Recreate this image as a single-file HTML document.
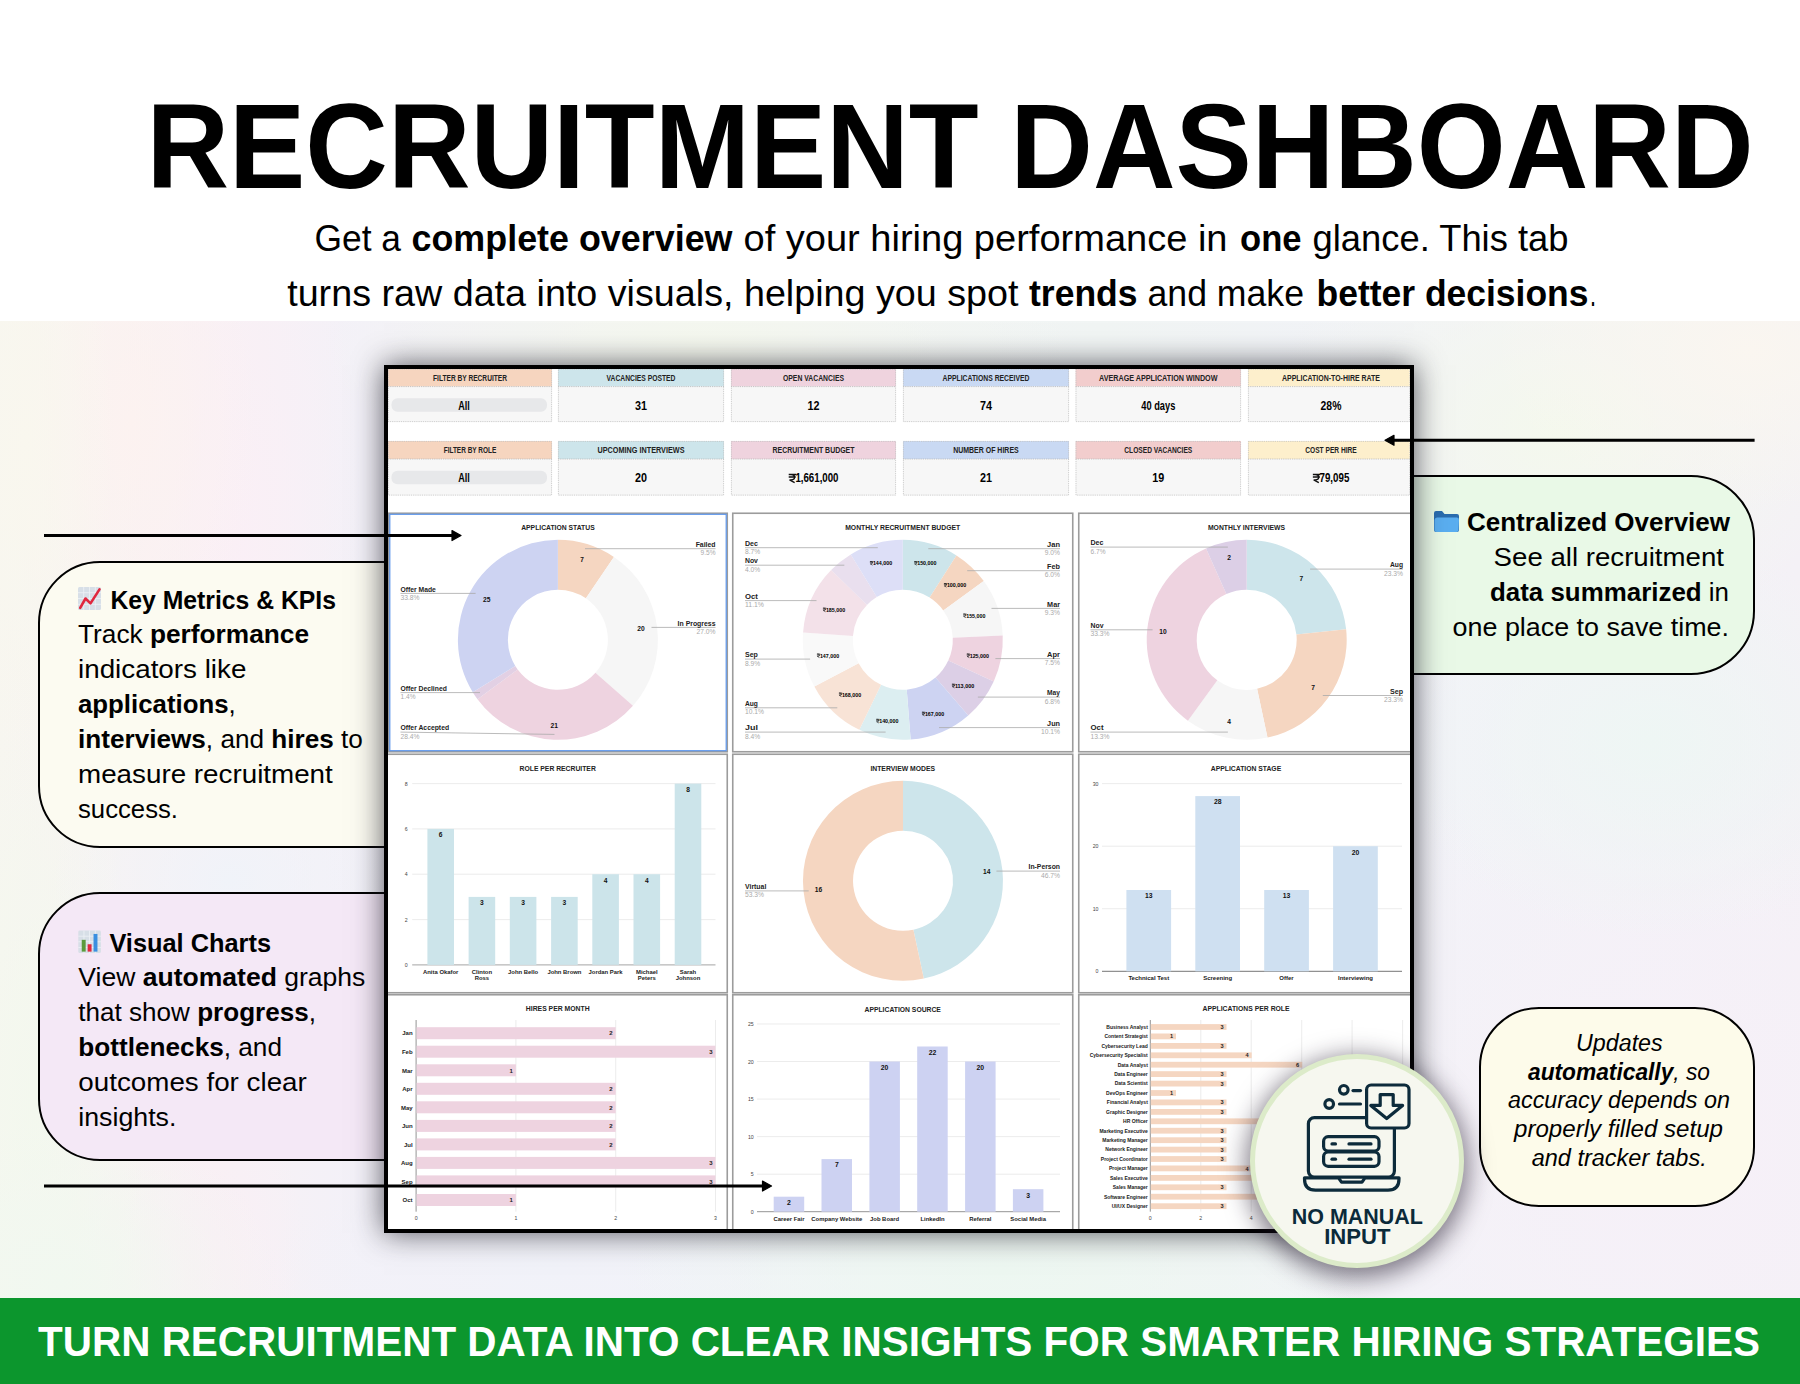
<!DOCTYPE html>
<html><head><meta charset="utf-8"><title>Recruitment Dashboard</title>
<style>
html,body{margin:0;padding:0;}
body{width:1800px;height:1384px;overflow:hidden;position:relative;background:#fff;font-family:"Liberation Sans", sans-serif;}
.abs{position:absolute;}
svg text{font-family:"Liberation Sans", sans-serif;}
.bg{position:absolute;left:0;top:321px;width:1800px;height:977px;background:radial-gradient(ellipse 260px 160px at 1750px 30px, rgba(250,246,240,1), rgba(250,246,240,0) 100%),
  radial-gradient(ellipse 300px 220px at 1560px 110px, rgba(244,248,237,1), rgba(244,248,237,0) 100%),
  radial-gradient(ellipse 380px 140px at 700px 30px, rgba(245,248,238,1), rgba(245,248,238,0) 100%),
  radial-gradient(ellipse 260px 200px at 1650px 420px, rgba(238,246,244,1), rgba(238,246,244,0) 100%),
  radial-gradient(ellipse 380px 140px at 1000px 950px, rgba(237,247,241,1), rgba(237,247,241,0) 100%),
  radial-gradient(ellipse 440px 420px at 1680px 820px, rgba(246,240,248,1), rgba(246,240,248,0) 100%),
  radial-gradient(ellipse 300px 110px at 560px 950px, rgba(241,242,249,1), rgba(241,242,249,0) 100%),
  radial-gradient(ellipse 180px 140px at 230px 560px, rgba(240,243,249,1), rgba(240,243,249,0) 100%),
  radial-gradient(ellipse 220px 160px at 60px 960px, rgba(241,248,240,1), rgba(241,248,240,0) 100%),
  radial-gradient(ellipse 110px 380px at 35px 780px, rgba(243,248,238,1), rgba(243,248,238,0) 100%),
  radial-gradient(ellipse 90px 160px at 215px 920px, rgba(249,239,245,1), rgba(249,239,245,0) 100%),
  radial-gradient(ellipse 90px 330px at 25px 120px, rgba(249,247,238,1), rgba(249,247,238,0) 100%),
  radial-gradient(ellipse 130px 280px at 130px 100px, rgba(252,242,240,1), rgba(252,242,240,0) 100%),
  radial-gradient(ellipse 130px 420px at 235px 220px, rgba(250,239,246,1), rgba(250,239,246,0) 100%),
  linear-gradient(90deg, #f7f6f0 0px, #f8f1f4 200px, #f3f1f8 360px, #f2f4f8 800px, #f1f5f4 1100px, #f2f3f8 1400px, #f4f1f6 1800px);}
.banner{position:absolute;left:0;top:1298px;width:1800px;height:86px;background:#0c962d;}
.box{position:absolute;border:2px solid #000;box-sizing:border-box;}
.dash{position:absolute;left:384px;top:365px;width:1030px;height:868px;background:#fff;box-sizing:border-box;border:4px solid #000;
  box-shadow:0 0 28px 0 rgba(30,30,40,0.74);}
.badge{position:absolute;left:1250px;top:1054px;width:214px;height:214px;border-radius:50%;box-sizing:border-box;
  background:#f6f7ef;border:5px solid #dcebc9;box-shadow:0 6px 24px 4px rgba(30,20,40,0.55);}
</style></head><body>
<div class="bg"></div>
<div class="box" style="left:37.5px;top:560.5px;width:422.5px;height:287.5px;background:#fcfbf1;border-radius:62px 0 0 62px;"></div>
<div class="box" style="left:37.5px;top:892px;width:422.5px;height:269px;background:#f4e8f6;border-radius:62px 0 0 62px;"></div>
<div class="box" style="left:1340px;top:475px;width:415px;height:199.5px;background:#e9f9e7;border-radius:0 64px 64px 0;"></div>
<div class="box" style="left:1478.5px;top:1006.5px;width:276.5px;height:200.0px;background:#fdfbea;border-radius:60px 60px 60px 60px;"></div>
<svg class="abs" style="left:0;top:0" width="1800" height="1384" viewBox="0 0 1800 1384"><text x="146.5" y="188.0" font-size="120.6" fill="#000" text-anchor="start" textLength="1607.0" lengthAdjust="spacingAndGlyphs" ><tspan font-weight="bold">RECRUITMENT DASHBOARD</tspan></text><text x="314.5" y="251.0" font-size="36" fill="#000" text-anchor="start" textLength="86.5" lengthAdjust="spacingAndGlyphs" ><tspan font-weight="normal">Get a</tspan></text><text x="411.5" y="251.0" font-size="36" fill="#000" text-anchor="start" textLength="321.0" lengthAdjust="spacingAndGlyphs" ><tspan font-weight="bold">complete overview</tspan></text><text x="743.5" y="251.0" font-size="36" fill="#000" text-anchor="start" textLength="484.0" lengthAdjust="spacingAndGlyphs" ><tspan font-weight="normal">of your hiring performance in</tspan></text><text x="1240.0" y="251.0" font-size="36" fill="#000" text-anchor="start" textLength="61.5" lengthAdjust="spacingAndGlyphs" ><tspan font-weight="bold">one</tspan></text><text x="1312.5" y="251.0" font-size="36" fill="#000" text-anchor="start" textLength="256.0" lengthAdjust="spacingAndGlyphs" ><tspan font-weight="normal">glance. This tab</tspan></text><text x="287.2" y="306.0" font-size="36" fill="#000" text-anchor="start" textLength="731.3" lengthAdjust="spacingAndGlyphs" ><tspan font-weight="normal">turns raw data into visuals, helping you spot</tspan></text><text x="1029.0" y="306.0" font-size="36" fill="#000" text-anchor="start" textLength="108.5" lengthAdjust="spacingAndGlyphs" ><tspan font-weight="bold">trends</tspan></text><text x="1147.5" y="306.0" font-size="36" fill="#000" text-anchor="start" textLength="156.5" lengthAdjust="spacingAndGlyphs" ><tspan font-weight="normal">and make</tspan></text><text x="1316.5" y="306.0" font-size="36" fill="#000" text-anchor="start" textLength="272.0" lengthAdjust="spacingAndGlyphs" ><tspan font-weight="bold">better decisions</tspan></text><text x="1590.0" y="306.0" font-size="36" fill="#000" text-anchor="start" textLength="6.0" lengthAdjust="spacingAndGlyphs" ><tspan font-weight="normal">.</tspan></text><text x="110.4" y="609.2" font-size="26" fill="#000" text-anchor="start" textLength="225.6" lengthAdjust="spacingAndGlyphs" ><tspan font-weight="bold">Key Metrics &amp; KPIs</tspan></text><text x="78.0" y="643.0" font-size="26" fill="#000" text-anchor="start" textLength="231.0" lengthAdjust="spacingAndGlyphs" ><tspan font-weight="normal">Track </tspan><tspan font-weight="bold">performance</tspan></text><text x="78.0" y="678.2" font-size="26" fill="#000" text-anchor="start" textLength="168.4" lengthAdjust="spacingAndGlyphs" ><tspan font-weight="normal">indicators like</tspan></text><text x="78.0" y="712.7" font-size="26" fill="#000" text-anchor="start" textLength="157.7" lengthAdjust="spacingAndGlyphs" ><tspan font-weight="bold">applications</tspan><tspan font-weight="normal">,</tspan></text><text x="78.0" y="747.7" font-size="26" fill="#000" text-anchor="start" textLength="284.9" lengthAdjust="spacingAndGlyphs" ><tspan font-weight="bold">interviews</tspan><tspan font-weight="normal">, and </tspan><tspan font-weight="bold">hires</tspan><tspan font-weight="normal"> to</tspan></text><text x="78.0" y="783.0" font-size="26" fill="#000" text-anchor="start" textLength="254.8" lengthAdjust="spacingAndGlyphs" ><tspan font-weight="normal">measure recruitment</tspan></text><text x="78.0" y="817.7" font-size="26" fill="#000" text-anchor="start" textLength="100.0" lengthAdjust="spacingAndGlyphs" ><tspan font-weight="normal">success.</tspan></text><text x="109.4" y="951.6" font-size="26" fill="#000" text-anchor="start" textLength="161.6" lengthAdjust="spacingAndGlyphs" ><tspan font-weight="bold">Visual Charts</tspan></text><text x="78.3" y="986.3" font-size="26" fill="#000" text-anchor="start" textLength="287.1" lengthAdjust="spacingAndGlyphs" ><tspan font-weight="normal">View </tspan><tspan font-weight="bold">automated</tspan><tspan font-weight="normal"> graphs</tspan></text><text x="78.3" y="1020.7" font-size="26" fill="#000" text-anchor="start" textLength="237.7" lengthAdjust="spacingAndGlyphs" ><tspan font-weight="normal">that show </tspan><tspan font-weight="bold">progress</tspan><tspan font-weight="normal">,</tspan></text><text x="78.3" y="1055.7" font-size="26" fill="#000" text-anchor="start" textLength="203.7" lengthAdjust="spacingAndGlyphs" ><tspan font-weight="bold">bottlenecks</tspan><tspan font-weight="normal">, and</tspan></text><text x="78.3" y="1090.7" font-size="26" fill="#000" text-anchor="start" textLength="228.5" lengthAdjust="spacingAndGlyphs" ><tspan font-weight="normal">outcomes for clear</tspan></text><text x="78.3" y="1125.7" font-size="26" fill="#000" text-anchor="start" textLength="98.1" lengthAdjust="spacingAndGlyphs" ><tspan font-weight="normal">insights.</tspan></text><text x="1467.0" y="531.2" font-size="26" fill="#000" text-anchor="start" textLength="263.0" lengthAdjust="spacingAndGlyphs" ><tspan font-weight="bold">Centralized Overview</tspan></text><text x="1493.6" y="565.7" font-size="26" fill="#000" text-anchor="start" textLength="230.4" lengthAdjust="spacingAndGlyphs" ><tspan font-weight="normal">See all recruitment</tspan></text><text x="1490.0" y="600.7" font-size="26" fill="#000" text-anchor="start" textLength="239.0" lengthAdjust="spacingAndGlyphs" ><tspan font-weight="bold">data summarized</tspan><tspan font-weight="normal"> in</tspan></text><text x="1452.6" y="635.7" font-size="26" fill="#000" text-anchor="start" textLength="276.4" lengthAdjust="spacingAndGlyphs" ><tspan font-weight="normal">one place to save time.</tspan></text><text x="1576.0" y="1051.0" font-size="23" fill="#000" text-anchor="start" textLength="86.7" lengthAdjust="spacingAndGlyphs" font-style="italic" ><tspan font-weight="normal">Updates</tspan></text><text x="1528.0" y="1079.6" font-size="23" fill="#000" text-anchor="start" textLength="182.0" lengthAdjust="spacingAndGlyphs" font-style="italic" ><tspan font-weight="bold">automatically</tspan><tspan font-weight="normal">, so</tspan></text><text x="1508.0" y="1108.3" font-size="23" fill="#000" text-anchor="start" textLength="222.0" lengthAdjust="spacingAndGlyphs" font-style="italic" ><tspan font-weight="normal">accuracy depends on</tspan></text><text x="1514.0" y="1137.0" font-size="23" fill="#000" text-anchor="start" textLength="209.0" lengthAdjust="spacingAndGlyphs" font-style="italic" ><tspan font-weight="normal">properly filled setup</tspan></text><text x="1531.7" y="1166.0" font-size="23" fill="#000" text-anchor="start" textLength="175.0" lengthAdjust="spacingAndGlyphs" font-style="italic" ><tspan font-weight="normal">and tracker tabs.</tspan></text><g transform="translate(78,587) scale(1.0000)"><rect x="0" y="0" width="23" height="23" rx="1.5" fill="#d7dfe7"/><rect x="5.35" y="0" width="0.8" height="23" fill="#eef2f6"/><rect x="0" y="5.35" width="23" height="0.8" fill="#eef2f6"/><rect x="11.10" y="0" width="0.8" height="23" fill="#eef2f6"/><rect x="0" y="11.10" width="23" height="0.8" fill="#eef2f6"/><rect x="16.85" y="0" width="0.8" height="23" fill="#eef2f6"/><rect x="0" y="16.85" width="23" height="0.8" fill="#eef2f6"/><polyline points="2.2,20.8 7.5,11.5 12.5,16.4 21.5,2.4" fill="none" stroke="#e0283f" stroke-width="2.6" stroke-linecap="round" stroke-linejoin="round"/></g><g transform="translate(78.3,930.5) scale(0.9826)"><rect x="0" y="0" width="23" height="23" rx="1.5" fill="#d7dfe7"/><rect x="5.35" y="0" width="0.8" height="23" fill="#eef2f6"/><rect x="0" y="5.35" width="23" height="0.8" fill="#eef2f6"/><rect x="11.10" y="0" width="0.8" height="23" fill="#eef2f6"/><rect x="0" y="11.10" width="23" height="0.8" fill="#eef2f6"/><rect x="16.85" y="0" width="0.8" height="23" fill="#eef2f6"/><rect x="0" y="16.85" width="23" height="0.8" fill="#eef2f6"/><rect x="3.5" y="9.5" width="4" height="12" fill="#5b9a3c"/><rect x="9.5" y="14" width="4" height="7.5" fill="#e0283f"/><rect x="15.5" y="3.5" width="4" height="18" fill="#3a8fe0"/></g><g transform="translate(1434,511)"><path d="M0,2 Q0,0 2,0 L8,0 L10.5,3 L23,3 Q25,3 25,5 L25,19 Q25,21 23,21 L2,21 Q0,21 0,19 Z" fill="#2a6cae"/><path d="M0.5,9 Q0.8,6.5 3,6.5 L23,6.5 Q25.2,6.5 25,9 L24.5,19 Q24.3,21 22.5,21 L2.5,21 Q0.5,21 0.5,19 Z" fill="#5aaef0"/></g></svg>
<div class="dash"></div>
<svg class="abs" style="left:0;top:0" width="1800" height="1384" viewBox="0 0 1800 1384"><defs><clipPath id="dclip"><rect x="388" y="369" width="1022" height="860"/></clipPath></defs><g clip-path="url(#dclip)"><rect x="388" y="368.7" width="164.0" height="17.9" fill="#f6d5bf"/><rect x="388" y="386.6" width="164.0" height="35.4" fill="#f7f7f7"/><rect x="388.4" y="369.1" width="163.2" height="52.5" fill="none" stroke="#c4c4c4" stroke-width="0.8" stroke-dasharray="1.2,1"/><line x1="388" y1="386.6" x2="552" y2="386.6" stroke="#b8b8b8" stroke-width="0.8" stroke-dasharray="1.2,1"/><rect x="391.5" y="398.2" width="155.5" height="13.5" rx="6" fill="#e7e8ea"/><text x="433.0" y="380.8" font-size="8.4" fill="#222" text-anchor="start" textLength="74.0" lengthAdjust="spacingAndGlyphs" ><tspan font-weight="bold">FILTER BY RECRUITER</tspan></text><text x="458.2" y="409.7" font-size="12.5" fill="#000" text-anchor="start" textLength="11.6" lengthAdjust="spacingAndGlyphs" ><tspan font-weight="bold">All</tspan></text><rect x="558" y="368.7" width="166.0" height="17.9" fill="#cde5eb"/><rect x="558" y="386.6" width="166.0" height="35.4" fill="#f7f7f7"/><rect x="558.4" y="369.1" width="165.2" height="52.5" fill="none" stroke="#c4c4c4" stroke-width="0.8" stroke-dasharray="1.2,1"/><line x1="558" y1="386.6" x2="724" y2="386.6" stroke="#b8b8b8" stroke-width="0.8" stroke-dasharray="1.2,1"/><text x="606.5" y="380.8" font-size="8.4" fill="#222" text-anchor="start" textLength="69.0" lengthAdjust="spacingAndGlyphs" ><tspan font-weight="bold">VACANCIES POSTED</tspan></text><text x="635.0" y="409.7" font-size="12.5" fill="#000" text-anchor="start" textLength="12.0" lengthAdjust="spacingAndGlyphs" ><tspan font-weight="bold">31</tspan></text><rect x="731" y="368.7" width="165.0" height="17.9" fill="#efd3de"/><rect x="731" y="386.6" width="165.0" height="35.4" fill="#f7f7f7"/><rect x="731.4" y="369.1" width="164.2" height="52.5" fill="none" stroke="#c4c4c4" stroke-width="0.8" stroke-dasharray="1.2,1"/><line x1="731" y1="386.6" x2="896" y2="386.6" stroke="#b8b8b8" stroke-width="0.8" stroke-dasharray="1.2,1"/><text x="783.0" y="380.8" font-size="8.4" fill="#222" text-anchor="start" textLength="61.0" lengthAdjust="spacingAndGlyphs" ><tspan font-weight="bold">OPEN VACANCIES</tspan></text><text x="807.5" y="409.7" font-size="12.5" fill="#000" text-anchor="start" textLength="12.0" lengthAdjust="spacingAndGlyphs" ><tspan font-weight="bold">12</tspan></text><rect x="903" y="368.7" width="166.0" height="17.9" fill="#c9d9f3"/><rect x="903" y="386.6" width="166.0" height="35.4" fill="#f7f7f7"/><rect x="903.4" y="369.1" width="165.2" height="52.5" fill="none" stroke="#c4c4c4" stroke-width="0.8" stroke-dasharray="1.2,1"/><line x1="903" y1="386.6" x2="1069" y2="386.6" stroke="#b8b8b8" stroke-width="0.8" stroke-dasharray="1.2,1"/><text x="942.5" y="380.8" font-size="8.4" fill="#222" text-anchor="start" textLength="87.0" lengthAdjust="spacingAndGlyphs" ><tspan font-weight="bold">APPLICATIONS RECEIVED</tspan></text><text x="980.0" y="409.7" font-size="12.5" fill="#000" text-anchor="start" textLength="12.0" lengthAdjust="spacingAndGlyphs" ><tspan font-weight="bold">74</tspan></text><rect x="1075.6" y="368.7" width="165.4" height="17.9" fill="#f2cdcd"/><rect x="1075.6" y="386.6" width="165.4" height="35.4" fill="#f7f7f7"/><rect x="1076.0" y="369.1" width="164.6" height="52.5" fill="none" stroke="#c4c4c4" stroke-width="0.8" stroke-dasharray="1.2,1"/><line x1="1075.6" y1="386.6" x2="1241" y2="386.6" stroke="#b8b8b8" stroke-width="0.8" stroke-dasharray="1.2,1"/><text x="1099.0" y="380.8" font-size="8.4" fill="#222" text-anchor="start" textLength="118.5" lengthAdjust="spacingAndGlyphs" ><tspan font-weight="bold">AVERAGE APPLICATION WINDOW</tspan></text><text x="1141.3" y="409.7" font-size="12.5" fill="#000" text-anchor="start" textLength="34.0" lengthAdjust="spacingAndGlyphs" ><tspan font-weight="bold">40 days</tspan></text><rect x="1248" y="368.7" width="162.0" height="17.9" fill="#fdefcc"/><rect x="1248" y="386.6" width="162.0" height="35.4" fill="#f7f7f7"/><rect x="1248.4" y="369.1" width="161.2" height="52.5" fill="none" stroke="#c4c4c4" stroke-width="0.8" stroke-dasharray="1.2,1"/><line x1="1248" y1="386.6" x2="1410" y2="386.6" stroke="#b8b8b8" stroke-width="0.8" stroke-dasharray="1.2,1"/><text x="1282.0" y="380.8" font-size="8.4" fill="#222" text-anchor="start" textLength="98.0" lengthAdjust="spacingAndGlyphs" ><tspan font-weight="bold">APPLICATION-TO-HIRE RATE</tspan></text><text x="1320.6" y="409.7" font-size="12.5" fill="#000" text-anchor="start" textLength="20.8" lengthAdjust="spacingAndGlyphs" ><tspan font-weight="bold">28%</tspan></text><rect x="388" y="441" width="164.0" height="18.0" fill="#f6d5bf"/><rect x="388" y="459" width="164.0" height="36.5" fill="#f7f7f7"/><rect x="388.4" y="441.4" width="163.2" height="53.7" fill="none" stroke="#c4c4c4" stroke-width="0.8" stroke-dasharray="1.2,1"/><line x1="388" y1="459" x2="552" y2="459" stroke="#b8b8b8" stroke-width="0.8" stroke-dasharray="1.2,1"/><rect x="391.5" y="470.8" width="155.5" height="13.5" rx="6" fill="#e7e8ea"/><text x="443.7" y="453.4" font-size="8.4" fill="#222" text-anchor="start" textLength="52.6" lengthAdjust="spacingAndGlyphs" ><tspan font-weight="bold">FILTER BY ROLE</tspan></text><text x="458.2" y="482.3" font-size="12.5" fill="#000" text-anchor="start" textLength="11.6" lengthAdjust="spacingAndGlyphs" ><tspan font-weight="bold">All</tspan></text><rect x="558" y="441" width="166.0" height="18.0" fill="#cde5eb"/><rect x="558" y="459" width="166.0" height="36.5" fill="#f7f7f7"/><rect x="558.4" y="441.4" width="165.2" height="53.7" fill="none" stroke="#c4c4c4" stroke-width="0.8" stroke-dasharray="1.2,1"/><line x1="558" y1="459" x2="724" y2="459" stroke="#b8b8b8" stroke-width="0.8" stroke-dasharray="1.2,1"/><text x="597.5" y="453.4" font-size="8.4" fill="#222" text-anchor="start" textLength="87.0" lengthAdjust="spacingAndGlyphs" ><tspan font-weight="bold">UPCOMING INTERVIEWS</tspan></text><text x="635.0" y="482.3" font-size="12.5" fill="#000" text-anchor="start" textLength="12.0" lengthAdjust="spacingAndGlyphs" ><tspan font-weight="bold">20</tspan></text><rect x="731" y="441" width="165.0" height="18.0" fill="#efd3de"/><rect x="731" y="459" width="165.0" height="36.5" fill="#f7f7f7"/><rect x="731.4" y="441.4" width="164.2" height="53.7" fill="none" stroke="#c4c4c4" stroke-width="0.8" stroke-dasharray="1.2,1"/><line x1="731" y1="459" x2="896" y2="459" stroke="#b8b8b8" stroke-width="0.8" stroke-dasharray="1.2,1"/><text x="772.5" y="453.4" font-size="8.4" fill="#222" text-anchor="start" textLength="82.0" lengthAdjust="spacingAndGlyphs" ><tspan font-weight="bold">RECRUITMENT BUDGET</tspan></text><g transform="translate(788.50,473.68) scale(1.0417)"><path d="M0.2,0.8 H7.4 M0.2,3.2 H7.0 M0.9,0.8 H2.6 Q5.8,0.8 5.8,3.4 Q5.8,5.9 2.4,5.9 H1.0 L5.9,8.6" fill="none" stroke="#111" stroke-width="1.3" stroke-linejoin="miter"/></g><text x="795.4" y="482.3" font-size="12.5" fill="#000" text-anchor="start" textLength="43.1" lengthAdjust="spacingAndGlyphs" ><tspan font-weight="bold">1,661,000</tspan></text><rect x="903" y="441" width="166.0" height="18.0" fill="#c9d9f3"/><rect x="903" y="459" width="166.0" height="36.5" fill="#f7f7f7"/><rect x="903.4" y="441.4" width="165.2" height="53.7" fill="none" stroke="#c4c4c4" stroke-width="0.8" stroke-dasharray="1.2,1"/><line x1="903" y1="459" x2="1069" y2="459" stroke="#b8b8b8" stroke-width="0.8" stroke-dasharray="1.2,1"/><text x="953.2" y="453.4" font-size="8.4" fill="#222" text-anchor="start" textLength="65.5" lengthAdjust="spacingAndGlyphs" ><tspan font-weight="bold">NUMBER OF HIRES</tspan></text><text x="980.0" y="482.3" font-size="12.5" fill="#000" text-anchor="start" textLength="12.0" lengthAdjust="spacingAndGlyphs" ><tspan font-weight="bold">21</tspan></text><rect x="1075.6" y="441" width="165.4" height="18.0" fill="#f2cdcd"/><rect x="1075.6" y="459" width="165.4" height="36.5" fill="#f7f7f7"/><rect x="1076.0" y="441.4" width="164.6" height="53.7" fill="none" stroke="#c4c4c4" stroke-width="0.8" stroke-dasharray="1.2,1"/><line x1="1075.6" y1="459" x2="1241" y2="459" stroke="#b8b8b8" stroke-width="0.8" stroke-dasharray="1.2,1"/><text x="1124.3" y="453.4" font-size="8.4" fill="#222" text-anchor="start" textLength="68.0" lengthAdjust="spacingAndGlyphs" ><tspan font-weight="bold">CLOSED VACANCIES</tspan></text><text x="1152.3" y="482.3" font-size="12.5" fill="#000" text-anchor="start" textLength="12.0" lengthAdjust="spacingAndGlyphs" ><tspan font-weight="bold">19</tspan></text><rect x="1248" y="441" width="162.0" height="18.0" fill="#fdefcc"/><rect x="1248" y="459" width="162.0" height="36.5" fill="#f7f7f7"/><rect x="1248.4" y="441.4" width="161.2" height="53.7" fill="none" stroke="#c4c4c4" stroke-width="0.8" stroke-dasharray="1.2,1"/><line x1="1248" y1="459" x2="1410" y2="459" stroke="#b8b8b8" stroke-width="0.8" stroke-dasharray="1.2,1"/><text x="1305.2" y="453.4" font-size="8.4" fill="#222" text-anchor="start" textLength="51.6" lengthAdjust="spacingAndGlyphs" ><tspan font-weight="bold">COST PER HIRE</tspan></text><g transform="translate(1312.65,473.68) scale(1.0417)"><path d="M0.2,0.8 H7.4 M0.2,3.2 H7.0 M0.9,0.8 H2.6 Q5.8,0.8 5.8,3.4 Q5.8,5.9 2.4,5.9 H1.0 L5.9,8.6" fill="none" stroke="#111" stroke-width="1.3" stroke-linejoin="miter"/></g><text x="1319.5" y="482.3" font-size="12.5" fill="#000" text-anchor="start" textLength="29.8" lengthAdjust="spacingAndGlyphs" ><tspan font-weight="bold">79,095</tspan></text><rect x="388.75" y="513.25" width="338.5" height="238.5" fill="#fff" stroke="#9c9c9c" stroke-width="1.6"/><rect x="732.75" y="513.25" width="340.0" height="238.5" fill="#fff" stroke="#9c9c9c" stroke-width="1.6"/><rect x="1078.75" y="513.25" width="332.5" height="238.5" fill="#fff" stroke="#9c9c9c" stroke-width="1.6"/><rect x="386.75" y="754.25" width="340.5" height="238.5" fill="#fff" stroke="#9c9c9c" stroke-width="1.6"/><rect x="732.75" y="754.25" width="340.0" height="238.5" fill="#fff" stroke="#9c9c9c" stroke-width="1.6"/><rect x="1078.75" y="754.25" width="332.5" height="238.5" fill="#fff" stroke="#9c9c9c" stroke-width="1.6"/><rect x="386.75" y="994.75" width="340.5" height="236.5" fill="#fff" stroke="#9c9c9c" stroke-width="1.6"/><rect x="732.75" y="994.75" width="340.0" height="236.5" fill="#fff" stroke="#9c9c9c" stroke-width="1.6"/><rect x="1078.75" y="994.75" width="332.5" height="236.5" fill="#fff" stroke="#9c9c9c" stroke-width="1.6"/><rect x="389.8" y="514.3" width="336.4" height="236.4" fill="none" stroke="#5b95ec" stroke-width="1.2"/><text x="521.2" y="530.3" font-size="7.2" fill="#222" text-anchor="start" textLength="73.5" lengthAdjust="spacingAndGlyphs" ><tspan font-weight="bold">APPLICATION STATUS</tspan></text><path d="M557.90,539.80 A100,100 0 0 1 613.90,556.95 L585.90,598.37 A50,50 0 0 0 557.90,589.80 Z" fill="#f5d6c1"/><path d="M613.90,556.95 A100,100 0 0 1 632.97,705.87 L595.43,672.83 A50,50 0 0 0 585.90,598.37 Z" fill="#f6f6f6"/><path d="M632.97,705.87 A100,100 0 0 1 477.50,699.26 L517.70,669.53 A50,50 0 0 0 595.43,672.83 Z" fill="#eed3e0"/><path d="M477.50,699.26 A100,100 0 0 1 472.75,692.23 L515.32,666.02 A50,50 0 0 0 517.70,669.53 Z" fill="#e2d0e4"/><path d="M472.75,692.23 A100,100 0 0 1 557.90,539.80 L557.90,589.80 A50,50 0 0 0 515.32,666.02 Z" fill="#cdd3f2"/><line x1="585" y1="548.7" x2="715.5" y2="548.7" stroke="#aaa" stroke-width="0.8"/><text x="695.7" y="546.8" font-size="6.8" fill="#222" text-anchor="start" textLength="19.8" lengthAdjust="spacingAndGlyphs" ><tspan font-weight="bold">Failed</tspan></text><text x="700.5" y="555.2" font-size="6.8" fill="#aaa" text-anchor="start" textLength="15.0" lengthAdjust="spacingAndGlyphs" ><tspan font-weight="normal">9.5%</tspan></text><line x1="651.5" y1="627.4" x2="715.5" y2="627.4" stroke="#aaa" stroke-width="0.8"/><text x="677.6" y="625.5" font-size="6.8" fill="#222" text-anchor="start" textLength="37.9" lengthAdjust="spacingAndGlyphs" ><tspan font-weight="bold">In Progress</tspan></text><text x="696.5" y="633.9" font-size="6.8" fill="#aaa" text-anchor="start" textLength="19.0" lengthAdjust="spacingAndGlyphs" ><tspan font-weight="normal">27.0%</tspan></text><line x1="400.5" y1="593.4" x2="475.6" y2="593.4" stroke="#aaa" stroke-width="0.8"/><text x="400.5" y="591.5" font-size="6.8" fill="#222" text-anchor="start" textLength="35.4" lengthAdjust="spacingAndGlyphs" ><tspan font-weight="bold">Offer Made</tspan></text><text x="400.5" y="599.9" font-size="6.8" fill="#aaa" text-anchor="start" textLength="19.0" lengthAdjust="spacingAndGlyphs" ><tspan font-weight="normal">33.8%</tspan></text><line x1="400.5" y1="692.6" x2="480" y2="692.6" stroke="#aaa" stroke-width="0.8"/><text x="400.5" y="690.7" font-size="6.8" fill="#222" text-anchor="start" textLength="46.3" lengthAdjust="spacingAndGlyphs" ><tspan font-weight="bold">Offer Declined</tspan></text><text x="400.5" y="699.1" font-size="6.8" fill="#aaa" text-anchor="start" textLength="15.0" lengthAdjust="spacingAndGlyphs" ><tspan font-weight="normal">1.4%</tspan></text><line x1="400.5" y1="732.1" x2="554.5" y2="734.4" stroke="#aaa" stroke-width="0.8"/><text x="400.5" y="730.2" font-size="6.8" fill="#222" text-anchor="start" textLength="48.6" lengthAdjust="spacingAndGlyphs" ><tspan font-weight="bold">Offer Accepted</tspan></text><text x="400.5" y="738.6" font-size="6.8" fill="#aaa" text-anchor="start" textLength="19.0" lengthAdjust="spacingAndGlyphs" ><tspan font-weight="normal">28.4%</tspan></text><text x="580.2" y="562.4" font-size="6.6" fill="#111" text-anchor="start" textLength="3.6" lengthAdjust="spacingAndGlyphs" ><tspan font-weight="bold">7</tspan></text><text x="483.0" y="602.2" font-size="6.6" fill="#111" text-anchor="start" textLength="7.4" lengthAdjust="spacingAndGlyphs" ><tspan font-weight="bold">25</tspan></text><text x="637.2" y="631.4" font-size="6.6" fill="#111" text-anchor="start" textLength="7.4" lengthAdjust="spacingAndGlyphs" ><tspan font-weight="bold">20</tspan></text><text x="550.5" y="727.6" font-size="6.6" fill="#111" text-anchor="start" textLength="7.4" lengthAdjust="spacingAndGlyphs" ><tspan font-weight="bold">21</tspan></text><text x="845.2" y="530.3" font-size="7.2" fill="#222" text-anchor="start" textLength="115.0" lengthAdjust="spacingAndGlyphs" ><tspan font-weight="bold">MONTHLY RECRUITMENT BUDGET</tspan></text><path d="M902.80,539.80 A100,100 0 0 1 956.43,555.40 L929.62,597.60 A50,50 0 0 0 902.80,589.80 Z" fill="#cde5eb"/><path d="M956.43,555.40 A100,100 0 0 1 983.76,581.10 L943.28,610.45 A50,50 0 0 0 929.62,597.60 Z" fill="#f5d6c1"/><path d="M983.76,581.10 A100,100 0 0 1 1002.71,635.56 L952.75,637.68 A50,50 0 0 0 943.28,610.45 Z" fill="#f6f6f6"/><path d="M1002.71,635.56 A100,100 0 0 1 993.73,681.42 L948.26,660.61 A50,50 0 0 0 952.75,637.68 Z" fill="#eed3e0"/><path d="M993.73,681.42 A100,100 0 0 1 968.28,715.38 L935.54,677.59 A50,50 0 0 0 948.26,660.61 Z" fill="#dccfe6"/><path d="M968.28,715.38 A100,100 0 0 1 910.65,739.49 L906.73,689.65 A50,50 0 0 0 935.54,677.59 Z" fill="#cdd3f2"/><path d="M910.65,739.49 A100,100 0 0 1 859.33,729.86 L881.07,684.83 A50,50 0 0 0 906.73,689.65 Z" fill="#dceef1"/><path d="M859.33,729.86 A100,100 0 0 1 814.37,686.50 L858.59,663.15 A50,50 0 0 0 881.07,684.83 Z" fill="#f8e3d6"/><path d="M814.37,686.50 A100,100 0 0 1 803.07,632.42 L852.94,636.11 A50,50 0 0 0 858.59,663.15 Z" fill="#f9f9f9"/><path d="M803.07,632.42 A100,100 0 0 1 831.15,570.04 L866.98,604.92 A50,50 0 0 0 852.94,636.11 Z" fill="#f3e1e9"/><path d="M831.15,570.04 A100,100 0 0 1 850.77,554.40 L876.79,597.10 A50,50 0 0 0 866.98,604.92 Z" fill="#e9dfee"/><path d="M850.77,554.40 A100,100 0 0 1 902.80,539.80 L902.80,589.80 A50,50 0 0 0 876.79,597.10 Z" fill="#dddff7"/><line x1="928.3" y1="548.7" x2="1060" y2="548.7" stroke="#aaa" stroke-width="0.8"/><text x="1047.1" y="546.8" font-size="6.8" fill="#222" text-anchor="start" textLength="12.9" lengthAdjust="spacingAndGlyphs" ><tspan font-weight="bold">Jan</tspan></text><text x="1044.8" y="555.2" font-size="6.8" fill="#aaa" text-anchor="start" textLength="15.2" lengthAdjust="spacingAndGlyphs" ><tspan font-weight="normal">9.0%</tspan></text><line x1="967.2" y1="570.7" x2="1060" y2="570.7" stroke="#aaa" stroke-width="0.8"/><text x="1047.1" y="568.8" font-size="6.8" fill="#222" text-anchor="start" textLength="12.9" lengthAdjust="spacingAndGlyphs" ><tspan font-weight="bold">Feb</tspan></text><text x="1044.8" y="577.2" font-size="6.8" fill="#aaa" text-anchor="start" textLength="15.2" lengthAdjust="spacingAndGlyphs" ><tspan font-weight="normal">6.0%</tspan></text><line x1="991.5" y1="608.4" x2="1060" y2="608.4" stroke="#aaa" stroke-width="0.8"/><text x="1047.1" y="606.5" font-size="6.8" fill="#222" text-anchor="start" textLength="12.9" lengthAdjust="spacingAndGlyphs" ><tspan font-weight="bold">Mar</tspan></text><text x="1044.8" y="614.9" font-size="6.8" fill="#aaa" text-anchor="start" textLength="15.2" lengthAdjust="spacingAndGlyphs" ><tspan font-weight="normal">9.3%</tspan></text><line x1="995.4" y1="658.6" x2="1060" y2="658.6" stroke="#aaa" stroke-width="0.8"/><text x="1047.1" y="656.7" font-size="6.8" fill="#222" text-anchor="start" textLength="12.9" lengthAdjust="spacingAndGlyphs" ><tspan font-weight="bold">Apr</tspan></text><text x="1044.8" y="665.1" font-size="6.8" fill="#aaa" text-anchor="start" textLength="15.2" lengthAdjust="spacingAndGlyphs" ><tspan font-weight="normal">7.5%</tspan></text><line x1="977.9" y1="697.1" x2="1060" y2="697.1" stroke="#aaa" stroke-width="0.8"/><text x="1047.1" y="695.2" font-size="6.8" fill="#222" text-anchor="start" textLength="12.9" lengthAdjust="spacingAndGlyphs" ><tspan font-weight="bold">May</tspan></text><text x="1044.8" y="703.6" font-size="6.8" fill="#aaa" text-anchor="start" textLength="15.2" lengthAdjust="spacingAndGlyphs" ><tspan font-weight="normal">6.8%</tspan></text><line x1="939" y1="727.6" x2="1060" y2="727.6" stroke="#aaa" stroke-width="0.8"/><text x="1047.1" y="725.7" font-size="6.8" fill="#222" text-anchor="start" textLength="12.9" lengthAdjust="spacingAndGlyphs" ><tspan font-weight="bold">Jun</tspan></text><text x="1041.0" y="734.1" font-size="6.8" fill="#aaa" text-anchor="start" textLength="19.0" lengthAdjust="spacingAndGlyphs" ><tspan font-weight="normal">10.1%</tspan></text><line x1="745" y1="547.7" x2="877.8" y2="547.7" stroke="#aaa" stroke-width="0.8"/><text x="745.0" y="545.8" font-size="6.8" fill="#222" text-anchor="start" textLength="12.9" lengthAdjust="spacingAndGlyphs" ><tspan font-weight="bold">Dec</tspan></text><text x="745.0" y="554.2" font-size="6.8" fill="#aaa" text-anchor="start" textLength="15.2" lengthAdjust="spacingAndGlyphs" ><tspan font-weight="normal">8.7%</tspan></text><line x1="745" y1="565.2" x2="844.3" y2="565.2" stroke="#aaa" stroke-width="0.8"/><text x="745.0" y="563.3" font-size="6.8" fill="#222" text-anchor="start" textLength="12.9" lengthAdjust="spacingAndGlyphs" ><tspan font-weight="bold">Nov</tspan></text><text x="745.0" y="571.7" font-size="6.8" fill="#aaa" text-anchor="start" textLength="15.2" lengthAdjust="spacingAndGlyphs" ><tspan font-weight="normal">4.0%</tspan></text><line x1="745" y1="600.6" x2="816.5" y2="600.6" stroke="#aaa" stroke-width="0.8"/><text x="745.0" y="598.7" font-size="6.8" fill="#222" text-anchor="start" textLength="12.9" lengthAdjust="spacingAndGlyphs" ><tspan font-weight="bold">Oct</tspan></text><text x="745.0" y="607.1" font-size="6.8" fill="#aaa" text-anchor="start" textLength="19.0" lengthAdjust="spacingAndGlyphs" ><tspan font-weight="normal">11.1%</tspan></text><line x1="745" y1="659.1" x2="810.1" y2="659.1" stroke="#aaa" stroke-width="0.8"/><text x="745.0" y="657.2" font-size="6.8" fill="#222" text-anchor="start" textLength="12.9" lengthAdjust="spacingAndGlyphs" ><tspan font-weight="bold">Sep</tspan></text><text x="745.0" y="665.6" font-size="6.8" fill="#aaa" text-anchor="start" textLength="15.2" lengthAdjust="spacingAndGlyphs" ><tspan font-weight="normal">8.9%</tspan></text><line x1="745" y1="707.8" x2="837.3" y2="707.8" stroke="#aaa" stroke-width="0.8"/><text x="745.0" y="705.9" font-size="6.8" fill="#222" text-anchor="start" textLength="12.9" lengthAdjust="spacingAndGlyphs" ><tspan font-weight="bold">Aug</tspan></text><text x="745.0" y="714.3" font-size="6.8" fill="#aaa" text-anchor="start" textLength="19.0" lengthAdjust="spacingAndGlyphs" ><tspan font-weight="normal">10.1%</tspan></text><line x1="745" y1="732.1" x2="885.6" y2="732.1" stroke="#aaa" stroke-width="0.8"/><text x="745.0" y="730.2" font-size="6.8" fill="#222" text-anchor="start" textLength="12.9" lengthAdjust="spacingAndGlyphs" ><tspan font-weight="bold">Jul</tspan></text><text x="745.0" y="738.6" font-size="6.8" fill="#aaa" text-anchor="start" textLength="15.2" lengthAdjust="spacingAndGlyphs" ><tspan font-weight="normal">8.4%</tspan></text><g transform="translate(869.80,561.14) scale(0.4667)"><path d="M0.2,0.8 H7.4 M0.2,3.2 H7.0 M0.9,0.8 H2.6 Q5.8,0.8 5.8,3.4 Q5.8,5.9 2.4,5.9 H1.0 L5.9,8.6" fill="none" stroke="#111" stroke-width="1.3" stroke-linejoin="miter"/></g><text x="872.9" y="565.0" font-size="5.6" fill="#000" text-anchor="start" textLength="19.3" lengthAdjust="spacingAndGlyphs" ><tspan font-weight="bold">144,000</tspan></text><g transform="translate(914.10,561.14) scale(0.4667)"><path d="M0.2,0.8 H7.4 M0.2,3.2 H7.0 M0.9,0.8 H2.6 Q5.8,0.8 5.8,3.4 Q5.8,5.9 2.4,5.9 H1.0 L5.9,8.6" fill="none" stroke="#111" stroke-width="1.3" stroke-linejoin="miter"/></g><text x="917.2" y="565.0" font-size="5.6" fill="#000" text-anchor="start" textLength="19.3" lengthAdjust="spacingAndGlyphs" ><tspan font-weight="bold">150,000</tspan></text><g transform="translate(943.80,583.14) scale(0.4667)"><path d="M0.2,0.8 H7.4 M0.2,3.2 H7.0 M0.9,0.8 H2.6 Q5.8,0.8 5.8,3.4 Q5.8,5.9 2.4,5.9 H1.0 L5.9,8.6" fill="none" stroke="#111" stroke-width="1.3" stroke-linejoin="miter"/></g><text x="946.9" y="587.0" font-size="5.6" fill="#000" text-anchor="start" textLength="19.3" lengthAdjust="spacingAndGlyphs" ><tspan font-weight="bold">100,000</tspan></text><g transform="translate(963.10,613.64) scale(0.4667)"><path d="M0.2,0.8 H7.4 M0.2,3.2 H7.0 M0.9,0.8 H2.6 Q5.8,0.8 5.8,3.4 Q5.8,5.9 2.4,5.9 H1.0 L5.9,8.6" fill="none" stroke="#111" stroke-width="1.3" stroke-linejoin="miter"/></g><text x="966.2" y="617.5" font-size="5.6" fill="#000" text-anchor="start" textLength="19.3" lengthAdjust="spacingAndGlyphs" ><tspan font-weight="bold">155,000</tspan></text><g transform="translate(966.60,653.64) scale(0.4667)"><path d="M0.2,0.8 H7.4 M0.2,3.2 H7.0 M0.9,0.8 H2.6 Q5.8,0.8 5.8,3.4 Q5.8,5.9 2.4,5.9 H1.0 L5.9,8.6" fill="none" stroke="#111" stroke-width="1.3" stroke-linejoin="miter"/></g><text x="969.7" y="657.5" font-size="5.6" fill="#000" text-anchor="start" textLength="19.3" lengthAdjust="spacingAndGlyphs" ><tspan font-weight="bold">125,000</tspan></text><g transform="translate(951.80,683.84) scale(0.4667)"><path d="M0.2,0.8 H7.4 M0.2,3.2 H7.0 M0.9,0.8 H2.6 Q5.8,0.8 5.8,3.4 Q5.8,5.9 2.4,5.9 H1.0 L5.9,8.6" fill="none" stroke="#111" stroke-width="1.3" stroke-linejoin="miter"/></g><text x="954.9" y="687.7" font-size="5.6" fill="#000" text-anchor="start" textLength="19.3" lengthAdjust="spacingAndGlyphs" ><tspan font-weight="bold">113,000</tspan></text><g transform="translate(921.80,711.84) scale(0.4667)"><path d="M0.2,0.8 H7.4 M0.2,3.2 H7.0 M0.9,0.8 H2.6 Q5.8,0.8 5.8,3.4 Q5.8,5.9 2.4,5.9 H1.0 L5.9,8.6" fill="none" stroke="#111" stroke-width="1.3" stroke-linejoin="miter"/></g><text x="924.9" y="715.7" font-size="5.6" fill="#000" text-anchor="start" textLength="19.3" lengthAdjust="spacingAndGlyphs" ><tspan font-weight="bold">167,000</tspan></text><g transform="translate(876.10,718.94) scale(0.4667)"><path d="M0.2,0.8 H7.4 M0.2,3.2 H7.0 M0.9,0.8 H2.6 Q5.8,0.8 5.8,3.4 Q5.8,5.9 2.4,5.9 H1.0 L5.9,8.6" fill="none" stroke="#111" stroke-width="1.3" stroke-linejoin="miter"/></g><text x="879.2" y="722.8" font-size="5.6" fill="#000" text-anchor="start" textLength="19.3" lengthAdjust="spacingAndGlyphs" ><tspan font-weight="bold">140,000</tspan></text><g transform="translate(838.80,692.64) scale(0.4667)"><path d="M0.2,0.8 H7.4 M0.2,3.2 H7.0 M0.9,0.8 H2.6 Q5.8,0.8 5.8,3.4 Q5.8,5.9 2.4,5.9 H1.0 L5.9,8.6" fill="none" stroke="#111" stroke-width="1.3" stroke-linejoin="miter"/></g><text x="841.9" y="696.5" font-size="5.6" fill="#000" text-anchor="start" textLength="19.3" lengthAdjust="spacingAndGlyphs" ><tspan font-weight="bold">168,000</tspan></text><g transform="translate(816.80,653.64) scale(0.4667)"><path d="M0.2,0.8 H7.4 M0.2,3.2 H7.0 M0.9,0.8 H2.6 Q5.8,0.8 5.8,3.4 Q5.8,5.9 2.4,5.9 H1.0 L5.9,8.6" fill="none" stroke="#111" stroke-width="1.3" stroke-linejoin="miter"/></g><text x="819.9" y="657.5" font-size="5.6" fill="#000" text-anchor="start" textLength="19.3" lengthAdjust="spacingAndGlyphs" ><tspan font-weight="bold">147,000</tspan></text><g transform="translate(822.80,607.74) scale(0.4667)"><path d="M0.2,0.8 H7.4 M0.2,3.2 H7.0 M0.9,0.8 H2.6 Q5.8,0.8 5.8,3.4 Q5.8,5.9 2.4,5.9 H1.0 L5.9,8.6" fill="none" stroke="#111" stroke-width="1.3" stroke-linejoin="miter"/></g><text x="825.9" y="611.6" font-size="5.6" fill="#000" text-anchor="start" textLength="19.3" lengthAdjust="spacingAndGlyphs" ><tspan font-weight="bold">185,000</tspan></text><text x="1207.9" y="530.3" font-size="7.2" fill="#222" text-anchor="start" textLength="77.2" lengthAdjust="spacingAndGlyphs" ><tspan font-weight="bold">MONTHLY INTERVIEWS</tspan></text><path d="M1246.70,539.80 A100,100 0 0 1 1346.15,629.35 L1296.43,634.57 A50,50 0 0 0 1246.70,589.80 Z" fill="#cde5eb"/><path d="M1346.15,629.35 A100,100 0 0 1 1267.49,737.61 L1257.10,688.71 A50,50 0 0 0 1296.43,634.57 Z" fill="#f5d6c1"/><path d="M1267.49,737.61 A100,100 0 0 1 1187.92,720.70 L1217.31,680.25 A50,50 0 0 0 1257.10,688.71 Z" fill="#f6f6f6"/><path d="M1187.92,720.70 A100,100 0 0 1 1206.03,548.45 L1226.36,594.12 A50,50 0 0 0 1217.31,680.25 Z" fill="#eed3e0"/><path d="M1206.03,548.45 A100,100 0 0 1 1246.70,539.80 L1246.70,589.80 A50,50 0 0 0 1226.36,594.12 Z" fill="#dccfe6"/><line x1="1310.1" y1="569.1" x2="1403" y2="569.1" stroke="#aaa" stroke-width="0.8"/><text x="1390.0" y="567.2" font-size="6.8" fill="#222" text-anchor="start" textLength="13.0" lengthAdjust="spacingAndGlyphs" ><tspan font-weight="bold">Aug</tspan></text><text x="1384.0" y="575.6" font-size="6.8" fill="#aaa" text-anchor="start" textLength="19.0" lengthAdjust="spacingAndGlyphs" ><tspan font-weight="normal">23.3%</tspan></text><line x1="1322.8" y1="695.5" x2="1403" y2="695.5" stroke="#aaa" stroke-width="0.8"/><text x="1390.0" y="693.6" font-size="6.8" fill="#222" text-anchor="start" textLength="13.0" lengthAdjust="spacingAndGlyphs" ><tspan font-weight="bold">Sep</tspan></text><text x="1384.0" y="702.0" font-size="6.8" fill="#aaa" text-anchor="start" textLength="19.0" lengthAdjust="spacingAndGlyphs" ><tspan font-weight="normal">23.3%</tspan></text><line x1="1090.5" y1="547.1" x2="1227.9" y2="547.1" stroke="#aaa" stroke-width="0.8"/><text x="1090.5" y="545.2" font-size="6.8" fill="#222" text-anchor="start" textLength="13.0" lengthAdjust="spacingAndGlyphs" ><tspan font-weight="bold">Dec</tspan></text><text x="1090.5" y="553.6" font-size="6.8" fill="#aaa" text-anchor="start" textLength="15.0" lengthAdjust="spacingAndGlyphs" ><tspan font-weight="normal">6.7%</tspan></text><line x1="1090.5" y1="629.8" x2="1152.6" y2="629.8" stroke="#aaa" stroke-width="0.8"/><text x="1090.5" y="627.9" font-size="6.8" fill="#222" text-anchor="start" textLength="13.0" lengthAdjust="spacingAndGlyphs" ><tspan font-weight="bold">Nov</tspan></text><text x="1090.5" y="636.3" font-size="6.8" fill="#aaa" text-anchor="start" textLength="19.0" lengthAdjust="spacingAndGlyphs" ><tspan font-weight="normal">33.3%</tspan></text><line x1="1090.5" y1="732.1" x2="1227.9" y2="732.1" stroke="#aaa" stroke-width="0.8"/><text x="1090.5" y="730.2" font-size="6.8" fill="#222" text-anchor="start" textLength="13.0" lengthAdjust="spacingAndGlyphs" ><tspan font-weight="bold">Oct</tspan></text><text x="1090.5" y="738.6" font-size="6.8" fill="#aaa" text-anchor="start" textLength="19.0" lengthAdjust="spacingAndGlyphs" ><tspan font-weight="normal">13.3%</tspan></text><text x="1227.2" y="559.8" font-size="6.6" fill="#111" text-anchor="start" textLength="3.7" lengthAdjust="spacingAndGlyphs" ><tspan font-weight="bold">2</tspan></text><text x="1299.6" y="581.2" font-size="6.6" fill="#111" text-anchor="start" textLength="3.7" lengthAdjust="spacingAndGlyphs" ><tspan font-weight="bold">7</tspan></text><text x="1159.3" y="633.7" font-size="6.6" fill="#111" text-anchor="start" textLength="7.4" lengthAdjust="spacingAndGlyphs" ><tspan font-weight="bold">10</tspan></text><text x="1311.2" y="690.1" font-size="6.6" fill="#111" text-anchor="start" textLength="3.7" lengthAdjust="spacingAndGlyphs" ><tspan font-weight="bold">7</tspan></text><text x="1227.2" y="724.3" font-size="6.6" fill="#111" text-anchor="start" textLength="3.7" lengthAdjust="spacingAndGlyphs" ><tspan font-weight="bold">4</tspan></text><text x="519.6" y="771.4" font-size="7.2" fill="#222" text-anchor="start" textLength="76.2" lengthAdjust="spacingAndGlyphs" ><tspan font-weight="bold">ROLE PER RECRUITER</tspan></text><line x1="412.2" y1="964.9" x2="715.5" y2="964.9" stroke="#9a9a9a" stroke-width="0.9"/><text x="407.7" y="966.9" font-size="5.2" fill="#444" text-anchor="end" ><tspan font-weight="normal">0</tspan></text><line x1="412.2" y1="919.6" x2="715.5" y2="919.6" stroke="#e4e4e4" stroke-width="0.7"/><text x="407.7" y="921.6" font-size="5.2" fill="#444" text-anchor="end" ><tspan font-weight="normal">2</tspan></text><line x1="412.2" y1="874.2" x2="715.5" y2="874.2" stroke="#e4e4e4" stroke-width="0.7"/><text x="407.7" y="876.2" font-size="5.2" fill="#444" text-anchor="end" ><tspan font-weight="normal">4</tspan></text><line x1="412.2" y1="828.9" x2="715.5" y2="828.9" stroke="#e4e4e4" stroke-width="0.7"/><text x="407.7" y="830.9" font-size="5.2" fill="#444" text-anchor="end" ><tspan font-weight="normal">6</tspan></text><line x1="412.2" y1="783.6" x2="715.5" y2="783.6" stroke="#e4e4e4" stroke-width="0.7"/><text x="407.7" y="785.6" font-size="5.2" fill="#444" text-anchor="end" ><tspan font-weight="normal">8</tspan></text><rect x="427.4" y="828.9" width="26.6" height="136.0" fill="#cce4ea"/><text x="438.8" y="837.2" font-size="6.6" fill="#111" text-anchor="start" textLength="3.7" lengthAdjust="spacingAndGlyphs" ><tspan font-weight="bold">6</tspan></text><text x="440.7" y="974.0" font-size="5.9" fill="#222" text-anchor="middle" ><tspan font-weight="bold">Anita Okafor</tspan></text><rect x="468.6" y="896.9" width="26.6" height="68.0" fill="#cce4ea"/><text x="480.1" y="905.2" font-size="6.6" fill="#111" text-anchor="start" textLength="3.7" lengthAdjust="spacingAndGlyphs" ><tspan font-weight="bold">3</tspan></text><text x="481.9" y="974.0" font-size="5.9" fill="#222" text-anchor="middle" ><tspan font-weight="bold">Clinton</tspan></text><text x="481.9" y="980.2" font-size="5.9" fill="#222" text-anchor="middle" ><tspan font-weight="bold">Ross</tspan></text><rect x="509.8" y="896.9" width="26.6" height="68.0" fill="#cce4ea"/><text x="521.3" y="905.2" font-size="6.6" fill="#111" text-anchor="start" textLength="3.7" lengthAdjust="spacingAndGlyphs" ><tspan font-weight="bold">3</tspan></text><text x="523.1" y="974.0" font-size="5.9" fill="#222" text-anchor="middle" ><tspan font-weight="bold">John Bello</tspan></text><rect x="551.1" y="896.9" width="26.6" height="68.0" fill="#cce4ea"/><text x="562.5" y="905.2" font-size="6.6" fill="#111" text-anchor="start" textLength="3.7" lengthAdjust="spacingAndGlyphs" ><tspan font-weight="bold">3</tspan></text><text x="564.4" y="974.0" font-size="5.9" fill="#222" text-anchor="middle" ><tspan font-weight="bold">John Brown</tspan></text><rect x="592.3" y="874.2" width="26.6" height="90.6" fill="#cce4ea"/><text x="603.7" y="882.5" font-size="6.6" fill="#111" text-anchor="start" textLength="3.7" lengthAdjust="spacingAndGlyphs" ><tspan font-weight="bold">4</tspan></text><text x="605.6" y="974.0" font-size="5.9" fill="#222" text-anchor="middle" ><tspan font-weight="bold">Jordan Park</tspan></text><rect x="633.5" y="874.2" width="26.6" height="90.6" fill="#cce4ea"/><text x="644.9" y="882.5" font-size="6.6" fill="#111" text-anchor="start" textLength="3.7" lengthAdjust="spacingAndGlyphs" ><tspan font-weight="bold">4</tspan></text><text x="646.8" y="974.0" font-size="5.9" fill="#222" text-anchor="middle" ><tspan font-weight="bold">Michael</tspan></text><text x="646.8" y="980.2" font-size="5.9" fill="#222" text-anchor="middle" ><tspan font-weight="bold">Peters</tspan></text><rect x="674.7" y="783.6" width="26.6" height="181.3" fill="#cce4ea"/><text x="686.2" y="791.9" font-size="6.6" fill="#111" text-anchor="start" textLength="3.7" lengthAdjust="spacingAndGlyphs" ><tspan font-weight="bold">8</tspan></text><text x="688.0" y="974.0" font-size="5.9" fill="#222" text-anchor="middle" ><tspan font-weight="bold">Sarah</tspan></text><text x="688.0" y="980.2" font-size="5.9" fill="#222" text-anchor="middle" ><tspan font-weight="bold">Johnson</tspan></text><text x="870.4" y="771.4" font-size="7.2" fill="#222" text-anchor="start" textLength="64.6" lengthAdjust="spacingAndGlyphs" ><tspan font-weight="bold">INTERVIEW MODES</tspan></text><path d="M903.00,780.80 A100,100 0 0 1 923.79,978.61 L913.40,929.71 A50,50 0 0 0 903.00,830.80 Z" fill="#cde5eb"/><path d="M923.79,978.61 A100,100 0 1 1 903.00,780.80 L903.00,830.80 A50,50 0 1 0 913.40,929.71 Z" fill="#f5d6c1"/><line x1="996.4" y1="871.1" x2="1060" y2="871.1" stroke="#aaa" stroke-width="0.8"/><text x="1028.5" y="869.2" font-size="6.8" fill="#222" text-anchor="start" textLength="31.5" lengthAdjust="spacingAndGlyphs" ><tspan font-weight="bold">In-Person</tspan></text><text x="1041.0" y="877.6" font-size="6.8" fill="#aaa" text-anchor="start" textLength="19.0" lengthAdjust="spacingAndGlyphs" ><tspan font-weight="normal">46.7%</tspan></text><line x1="745" y1="890.9" x2="808.7" y2="890.9" stroke="#aaa" stroke-width="0.8"/><text x="745.0" y="889.0" font-size="6.8" fill="#222" text-anchor="start" textLength="21.3" lengthAdjust="spacingAndGlyphs" ><tspan font-weight="bold">Virtual</tspan></text><text x="745.0" y="897.4" font-size="6.8" fill="#aaa" text-anchor="start" textLength="19.0" lengthAdjust="spacingAndGlyphs" ><tspan font-weight="normal">53.3%</tspan></text><text x="983.0" y="874.4" font-size="6.6" fill="#111" text-anchor="start" textLength="7.4" lengthAdjust="spacingAndGlyphs" ><tspan font-weight="bold">14</tspan></text><text x="814.8" y="892.0" font-size="6.6" fill="#111" text-anchor="start" textLength="7.4" lengthAdjust="spacingAndGlyphs" ><tspan font-weight="bold">16</tspan></text><text x="1210.8" y="771.4" font-size="7.2" fill="#222" text-anchor="start" textLength="70.4" lengthAdjust="spacingAndGlyphs" ><tspan font-weight="bold">APPLICATION STAGE</tspan></text><line x1="1102" y1="971.3" x2="1402" y2="971.3" stroke="#666" stroke-width="0.9"/><text x="1098.5" y="973.3" font-size="5.2" fill="#444" text-anchor="end" ><tspan font-weight="normal">0</tspan></text><line x1="1102" y1="908.7" x2="1402" y2="908.7" stroke="#e4e4e4" stroke-width="0.7"/><text x="1098.5" y="910.7" font-size="5.2" fill="#444" text-anchor="end" ><tspan font-weight="normal">10</tspan></text><line x1="1102" y1="846.2" x2="1402" y2="846.2" stroke="#e4e4e4" stroke-width="0.7"/><text x="1098.5" y="848.2" font-size="5.2" fill="#444" text-anchor="end" ><tspan font-weight="normal">20</tspan></text><line x1="1102" y1="783.6" x2="1402" y2="783.6" stroke="#e4e4e4" stroke-width="0.7"/><text x="1098.5" y="785.6" font-size="5.2" fill="#444" text-anchor="end" ><tspan font-weight="normal">30</tspan></text><rect x="1126.4" y="890.0" width="44.7" height="81.3" fill="#cfe0f1"/><text x="1145.0" y="898.3" font-size="6.6" fill="#111" text-anchor="start" textLength="7.6" lengthAdjust="spacingAndGlyphs" ><tspan font-weight="bold">13</tspan></text><text x="1148.8" y="980.0" font-size="6.0" fill="#222" text-anchor="middle" ><tspan font-weight="bold">Technical Test</tspan></text><rect x="1195.3" y="796.1" width="44.7" height="175.2" fill="#cfe0f1"/><text x="1213.9" y="804.4" font-size="6.6" fill="#111" text-anchor="start" textLength="7.6" lengthAdjust="spacingAndGlyphs" ><tspan font-weight="bold">28</tspan></text><text x="1217.7" y="980.0" font-size="6.0" fill="#222" text-anchor="middle" ><tspan font-weight="bold">Screening</tspan></text><rect x="1264.2" y="890.0" width="44.7" height="81.3" fill="#cfe0f1"/><text x="1282.8" y="898.3" font-size="6.6" fill="#111" text-anchor="start" textLength="7.6" lengthAdjust="spacingAndGlyphs" ><tspan font-weight="bold">13</tspan></text><text x="1286.5" y="980.0" font-size="6.0" fill="#222" text-anchor="middle" ><tspan font-weight="bold">Offer</tspan></text><rect x="1333.1" y="846.2" width="44.7" height="125.1" fill="#cfe0f1"/><text x="1351.7" y="854.5" font-size="6.6" fill="#111" text-anchor="start" textLength="7.6" lengthAdjust="spacingAndGlyphs" ><tspan font-weight="bold">20</tspan></text><text x="1355.5" y="980.0" font-size="6.0" fill="#222" text-anchor="middle" ><tspan font-weight="bold">Interviewing</tspan></text><text x="525.8" y="1011.4" font-size="7.2" fill="#222" text-anchor="start" textLength="63.8" lengthAdjust="spacingAndGlyphs" ><tspan font-weight="bold">HIRES PER MONTH</tspan></text><line x1="416.1" y1="1020" x2="416.1" y2="1211.7" stroke="#888" stroke-width="0.9"/><text x="416.1" y="1219.5" font-size="5.2" fill="#444" text-anchor="middle" ><tspan font-weight="normal">0</tspan></text><line x1="515.9" y1="1020" x2="515.9" y2="1211.7" stroke="#e4e4e4" stroke-width="0.7"/><text x="515.9" y="1219.5" font-size="5.2" fill="#444" text-anchor="middle" ><tspan font-weight="normal">1</tspan></text><line x1="615.7" y1="1020" x2="615.7" y2="1211.7" stroke="#e4e4e4" stroke-width="0.7"/><text x="615.7" y="1219.5" font-size="5.2" fill="#444" text-anchor="middle" ><tspan font-weight="normal">2</tspan></text><line x1="715.5" y1="1020" x2="715.5" y2="1211.7" stroke="#e4e4e4" stroke-width="0.7"/><text x="715.5" y="1219.5" font-size="5.2" fill="#444" text-anchor="middle" ><tspan font-weight="normal">3</tspan></text><rect x="416.6" y="1027.2" width="199.1" height="12" fill="#eed3e0"/><text x="412.6" y="1035.4" font-size="6.0" fill="#222" text-anchor="end" ><tspan font-weight="bold">Jan</tspan></text><text x="612.7" y="1035.4" font-size="6.0" fill="#222" text-anchor="end" ><tspan font-weight="bold">2</tspan></text><rect x="416.6" y="1045.7" width="298.9" height="12" fill="#eed3e0"/><text x="412.6" y="1053.9" font-size="6.0" fill="#222" text-anchor="end" ><tspan font-weight="bold">Feb</tspan></text><text x="712.5" y="1053.9" font-size="6.0" fill="#222" text-anchor="end" ><tspan font-weight="bold">3</tspan></text><rect x="416.6" y="1064.3" width="99.3" height="12" fill="#eed3e0"/><text x="412.6" y="1072.5" font-size="6.0" fill="#222" text-anchor="end" ><tspan font-weight="bold">Mar</tspan></text><text x="512.9" y="1072.5" font-size="6.0" fill="#222" text-anchor="end" ><tspan font-weight="bold">1</tspan></text><rect x="416.6" y="1082.8" width="199.1" height="12" fill="#eed3e0"/><text x="412.6" y="1091.0" font-size="6.0" fill="#222" text-anchor="end" ><tspan font-weight="bold">Apr</tspan></text><text x="612.7" y="1091.0" font-size="6.0" fill="#222" text-anchor="end" ><tspan font-weight="bold">2</tspan></text><rect x="416.6" y="1101.3" width="199.1" height="12" fill="#eed3e0"/><text x="412.6" y="1109.5" font-size="6.0" fill="#222" text-anchor="end" ><tspan font-weight="bold">May</tspan></text><text x="612.7" y="1109.5" font-size="6.0" fill="#222" text-anchor="end" ><tspan font-weight="bold">2</tspan></text><rect x="416.6" y="1119.9" width="199.1" height="12" fill="#eed3e0"/><text x="412.6" y="1128.1" font-size="6.0" fill="#222" text-anchor="end" ><tspan font-weight="bold">Jun</tspan></text><text x="612.7" y="1128.1" font-size="6.0" fill="#222" text-anchor="end" ><tspan font-weight="bold">2</tspan></text><rect x="416.6" y="1138.4" width="199.1" height="12" fill="#eed3e0"/><text x="412.6" y="1146.6" font-size="6.0" fill="#222" text-anchor="end" ><tspan font-weight="bold">Jul</tspan></text><text x="612.7" y="1146.6" font-size="6.0" fill="#222" text-anchor="end" ><tspan font-weight="bold">2</tspan></text><rect x="416.6" y="1156.9" width="298.9" height="12" fill="#eed3e0"/><text x="412.6" y="1165.1" font-size="6.0" fill="#222" text-anchor="end" ><tspan font-weight="bold">Aug</tspan></text><text x="712.5" y="1165.1" font-size="6.0" fill="#222" text-anchor="end" ><tspan font-weight="bold">3</tspan></text><rect x="416.6" y="1175.4" width="298.9" height="12" fill="#eed3e0"/><text x="412.6" y="1183.6" font-size="6.0" fill="#222" text-anchor="end" ><tspan font-weight="bold">Sep</tspan></text><text x="712.5" y="1183.6" font-size="6.0" fill="#222" text-anchor="end" ><tspan font-weight="bold">3</tspan></text><rect x="416.6" y="1194.0" width="99.3" height="12" fill="#eed3e0"/><text x="412.6" y="1202.2" font-size="6.0" fill="#222" text-anchor="end" ><tspan font-weight="bold">Oct</tspan></text><text x="512.9" y="1202.2" font-size="6.0" fill="#222" text-anchor="end" ><tspan font-weight="bold">1</tspan></text><text x="864.5" y="1012.0" font-size="7.2" fill="#222" text-anchor="start" textLength="76.4" lengthAdjust="spacingAndGlyphs" ><tspan font-weight="bold">APPLICATION SOURCE</tspan></text><line x1="757" y1="1211.7" x2="1060" y2="1211.7" stroke="#888" stroke-width="0.9"/><text x="753.7" y="1213.7" font-size="5.2" fill="#444" text-anchor="end" ><tspan font-weight="normal">0</tspan></text><line x1="757" y1="1174.2" x2="1060" y2="1174.2" stroke="#e4e4e4" stroke-width="0.7"/><text x="753.7" y="1176.2" font-size="5.2" fill="#444" text-anchor="end" ><tspan font-weight="normal">5</tspan></text><line x1="757" y1="1136.6" x2="1060" y2="1136.6" stroke="#e4e4e4" stroke-width="0.7"/><text x="753.7" y="1138.6" font-size="5.2" fill="#444" text-anchor="end" ><tspan font-weight="normal">10</tspan></text><line x1="757" y1="1099.1" x2="1060" y2="1099.1" stroke="#e4e4e4" stroke-width="0.7"/><text x="753.7" y="1101.1" font-size="5.2" fill="#444" text-anchor="end" ><tspan font-weight="normal">15</tspan></text><line x1="757" y1="1061.5" x2="1060" y2="1061.5" stroke="#e4e4e4" stroke-width="0.7"/><text x="753.7" y="1063.5" font-size="5.2" fill="#444" text-anchor="end" ><tspan font-weight="normal">20</tspan></text><line x1="757" y1="1024.0" x2="1060" y2="1024.0" stroke="#e4e4e4" stroke-width="0.7"/><text x="753.7" y="1026.0" font-size="5.2" fill="#444" text-anchor="end" ><tspan font-weight="normal">25</tspan></text><rect x="773.7" y="1196.7" width="30.5" height="15.0" fill="#cdd2f2"/><text x="787.1" y="1205.0" font-size="6.6" fill="#111" text-anchor="start" textLength="3.8" lengthAdjust="spacingAndGlyphs" ><tspan font-weight="bold">2</tspan></text><text x="789.0" y="1220.5" font-size="5.9" fill="#222" text-anchor="middle" ><tspan font-weight="bold">Career Fair</tspan></text><rect x="821.5" y="1159.1" width="30.5" height="52.6" fill="#cdd2f2"/><text x="834.9" y="1167.4" font-size="6.6" fill="#111" text-anchor="start" textLength="3.8" lengthAdjust="spacingAndGlyphs" ><tspan font-weight="bold">7</tspan></text><text x="836.8" y="1220.5" font-size="5.9" fill="#222" text-anchor="middle" ><tspan font-weight="bold">Company Website</tspan></text><rect x="869.4" y="1061.5" width="30.5" height="150.2" fill="#cdd2f2"/><text x="880.8" y="1069.8" font-size="6.6" fill="#111" text-anchor="start" textLength="7.6" lengthAdjust="spacingAndGlyphs" ><tspan font-weight="bold">20</tspan></text><text x="884.6" y="1220.5" font-size="5.9" fill="#222" text-anchor="middle" ><tspan font-weight="bold">Job Board</tspan></text><rect x="917.2" y="1046.5" width="30.5" height="165.2" fill="#cdd2f2"/><text x="928.7" y="1054.8" font-size="6.6" fill="#111" text-anchor="start" textLength="7.6" lengthAdjust="spacingAndGlyphs" ><tspan font-weight="bold">22</tspan></text><text x="932.5" y="1220.5" font-size="5.9" fill="#222" text-anchor="middle" ><tspan font-weight="bold">LinkedIn</tspan></text><rect x="965.1" y="1061.5" width="30.5" height="150.2" fill="#cdd2f2"/><text x="976.5" y="1069.8" font-size="6.6" fill="#111" text-anchor="start" textLength="7.6" lengthAdjust="spacingAndGlyphs" ><tspan font-weight="bold">20</tspan></text><text x="980.3" y="1220.5" font-size="5.9" fill="#222" text-anchor="middle" ><tspan font-weight="bold">Referral</tspan></text><rect x="1012.9" y="1189.2" width="30.5" height="22.5" fill="#cdd2f2"/><text x="1026.2" y="1197.5" font-size="6.6" fill="#111" text-anchor="start" textLength="3.8" lengthAdjust="spacingAndGlyphs" ><tspan font-weight="bold">3</tspan></text><text x="1028.2" y="1220.5" font-size="5.9" fill="#222" text-anchor="middle" ><tspan font-weight="bold">Social Media</tspan></text><text x="1202.5" y="1011.4" font-size="7.2" fill="#222" text-anchor="start" textLength="87.1" lengthAdjust="spacingAndGlyphs" ><tspan font-weight="bold">APPLICATIONS PER ROLE</tspan></text><line x1="1150.3" y1="1020" x2="1150.3" y2="1211.7" stroke="#888" stroke-width="0.9"/><text x="1150.3" y="1219.5" font-size="5.2" fill="#444" text-anchor="middle" ><tspan font-weight="normal">0</tspan></text><line x1="1200.8" y1="1020" x2="1200.8" y2="1211.7" stroke="#e4e4e4" stroke-width="0.7"/><text x="1200.8" y="1219.5" font-size="5.2" fill="#444" text-anchor="middle" ><tspan font-weight="normal">2</tspan></text><line x1="1251.2" y1="1020" x2="1251.2" y2="1211.7" stroke="#e4e4e4" stroke-width="0.7"/><text x="1251.2" y="1219.5" font-size="5.2" fill="#444" text-anchor="middle" ><tspan font-weight="normal">4</tspan></text><line x1="1301.7" y1="1020" x2="1301.7" y2="1211.7" stroke="#e4e4e4" stroke-width="0.7"/><text x="1301.7" y="1219.5" font-size="5.2" fill="#444" text-anchor="middle" ><tspan font-weight="normal">6</tspan></text><line x1="1352.1" y1="1020" x2="1352.1" y2="1211.7" stroke="#e4e4e4" stroke-width="0.7"/><text x="1352.1" y="1219.5" font-size="5.2" fill="#444" text-anchor="middle" ><tspan font-weight="normal">8</tspan></text><line x1="1402.6" y1="1020" x2="1402.6" y2="1211.7" stroke="#e4e4e4" stroke-width="0.7"/><text x="1402.6" y="1219.5" font-size="5.2" fill="#444" text-anchor="middle" ><tspan font-weight="normal">10</tspan></text><rect x="1150.8" y="1024.1" width="75.7" height="5.8" fill="#f5d6c1"/><text x="1147.8" y="1028.8" font-size="5.0" fill="#1a1a1a" text-anchor="end" ><tspan font-weight="bold">Business Analyst</tspan></text><text x="1223.5" y="1029.0" font-size="5.6" fill="#222" text-anchor="end" ><tspan font-weight="bold">3</tspan></text><rect x="1150.8" y="1033.5" width="25.2" height="5.8" fill="#f5d6c1"/><text x="1147.8" y="1038.2" font-size="5.0" fill="#1a1a1a" text-anchor="end" ><tspan font-weight="bold">Content Strategist</tspan></text><text x="1173.0" y="1038.4" font-size="5.6" fill="#222" text-anchor="end" ><tspan font-weight="bold">1</tspan></text><rect x="1150.8" y="1043.0" width="75.7" height="5.8" fill="#f5d6c1"/><text x="1147.8" y="1047.7" font-size="5.0" fill="#1a1a1a" text-anchor="end" ><tspan font-weight="bold">Cybersecurity Lead</tspan></text><text x="1223.5" y="1047.9" font-size="5.6" fill="#222" text-anchor="end" ><tspan font-weight="bold">3</tspan></text><rect x="1150.8" y="1052.4" width="100.9" height="5.8" fill="#f5d6c1"/><text x="1147.8" y="1057.1" font-size="5.0" fill="#1a1a1a" text-anchor="end" ><tspan font-weight="bold">Cybersecurity Specialist</tspan></text><text x="1248.7" y="1057.3" font-size="5.6" fill="#222" text-anchor="end" ><tspan font-weight="bold">4</tspan></text><rect x="1150.8" y="1061.8" width="151.4" height="5.8" fill="#f5d6c1"/><text x="1147.8" y="1066.5" font-size="5.0" fill="#1a1a1a" text-anchor="end" ><tspan font-weight="bold">Data Analyst</tspan></text><text x="1299.2" y="1066.7" font-size="5.6" fill="#222" text-anchor="end" ><tspan font-weight="bold">6</tspan></text><rect x="1150.8" y="1071.2" width="75.7" height="5.8" fill="#f5d6c1"/><text x="1147.8" y="1076.0" font-size="5.0" fill="#1a1a1a" text-anchor="end" ><tspan font-weight="bold">Data Engineer</tspan></text><text x="1223.5" y="1076.2" font-size="5.6" fill="#222" text-anchor="end" ><tspan font-weight="bold">3</tspan></text><rect x="1150.8" y="1080.7" width="75.7" height="5.8" fill="#f5d6c1"/><text x="1147.8" y="1085.4" font-size="5.0" fill="#1a1a1a" text-anchor="end" ><tspan font-weight="bold">Data Scientist</tspan></text><text x="1223.5" y="1085.6" font-size="5.6" fill="#222" text-anchor="end" ><tspan font-weight="bold">3</tspan></text><rect x="1150.8" y="1090.1" width="25.2" height="5.8" fill="#f5d6c1"/><text x="1147.8" y="1094.8" font-size="5.0" fill="#1a1a1a" text-anchor="end" ><tspan font-weight="bold">DevOps Engineer</tspan></text><text x="1173.0" y="1095.0" font-size="5.6" fill="#222" text-anchor="end" ><tspan font-weight="bold">1</tspan></text><rect x="1150.8" y="1099.5" width="75.7" height="5.8" fill="#f5d6c1"/><text x="1147.8" y="1104.2" font-size="5.0" fill="#1a1a1a" text-anchor="end" ><tspan font-weight="bold">Financial Analyst</tspan></text><text x="1223.5" y="1104.4" font-size="5.6" fill="#222" text-anchor="end" ><tspan font-weight="bold">3</tspan></text><rect x="1150.8" y="1109.0" width="75.7" height="5.8" fill="#f5d6c1"/><text x="1147.8" y="1113.7" font-size="5.0" fill="#1a1a1a" text-anchor="end" ><tspan font-weight="bold">Graphic Designer</tspan></text><text x="1223.5" y="1113.9" font-size="5.6" fill="#222" text-anchor="end" ><tspan font-weight="bold">3</tspan></text><rect x="1150.8" y="1118.4" width="176.6" height="5.8" fill="#f5d6c1"/><text x="1147.8" y="1123.1" font-size="5.0" fill="#1a1a1a" text-anchor="end" ><tspan font-weight="bold">HR Officer</tspan></text><text x="1324.4" y="1123.3" font-size="5.6" fill="#222" text-anchor="end" ><tspan font-weight="bold">7</tspan></text><rect x="1150.8" y="1127.8" width="75.7" height="5.8" fill="#f5d6c1"/><text x="1147.8" y="1132.5" font-size="5.0" fill="#1a1a1a" text-anchor="end" ><tspan font-weight="bold">Marketing Executive</tspan></text><text x="1223.5" y="1132.7" font-size="5.6" fill="#222" text-anchor="end" ><tspan font-weight="bold">3</tspan></text><rect x="1150.8" y="1137.3" width="75.7" height="5.8" fill="#f5d6c1"/><text x="1147.8" y="1142.0" font-size="5.0" fill="#1a1a1a" text-anchor="end" ><tspan font-weight="bold">Marketing Manager</tspan></text><text x="1223.5" y="1142.2" font-size="5.6" fill="#222" text-anchor="end" ><tspan font-weight="bold">3</tspan></text><rect x="1150.8" y="1146.7" width="75.7" height="5.8" fill="#f5d6c1"/><text x="1147.8" y="1151.4" font-size="5.0" fill="#1a1a1a" text-anchor="end" ><tspan font-weight="bold">Network Engineer</tspan></text><text x="1223.5" y="1151.6" font-size="5.6" fill="#222" text-anchor="end" ><tspan font-weight="bold">3</tspan></text><rect x="1150.8" y="1156.1" width="75.7" height="5.8" fill="#f5d6c1"/><text x="1147.8" y="1160.8" font-size="5.0" fill="#1a1a1a" text-anchor="end" ><tspan font-weight="bold">Project Coordinator</tspan></text><text x="1223.5" y="1161.0" font-size="5.6" fill="#222" text-anchor="end" ><tspan font-weight="bold">3</tspan></text><rect x="1150.8" y="1165.5" width="100.9" height="5.8" fill="#f5d6c1"/><text x="1147.8" y="1170.2" font-size="5.0" fill="#1a1a1a" text-anchor="end" ><tspan font-weight="bold">Project Manager</tspan></text><text x="1248.7" y="1170.5" font-size="5.6" fill="#222" text-anchor="end" ><tspan font-weight="bold">4</tspan></text><rect x="1150.8" y="1175.0" width="176.6" height="5.8" fill="#f5d6c1"/><text x="1147.8" y="1179.7" font-size="5.0" fill="#1a1a1a" text-anchor="end" ><tspan font-weight="bold">Sales Executive</tspan></text><text x="1324.4" y="1179.9" font-size="5.6" fill="#222" text-anchor="end" ><tspan font-weight="bold">7</tspan></text><rect x="1150.8" y="1184.4" width="75.7" height="5.8" fill="#f5d6c1"/><text x="1147.8" y="1189.1" font-size="5.0" fill="#1a1a1a" text-anchor="end" ><tspan font-weight="bold">Sales Manager</tspan></text><text x="1223.5" y="1189.3" font-size="5.6" fill="#222" text-anchor="end" ><tspan font-weight="bold">3</tspan></text><rect x="1150.8" y="1193.8" width="176.6" height="5.8" fill="#f5d6c1"/><text x="1147.8" y="1198.5" font-size="5.0" fill="#1a1a1a" text-anchor="end" ><tspan font-weight="bold">Software Engineer</tspan></text><text x="1324.4" y="1198.7" font-size="5.6" fill="#222" text-anchor="end" ><tspan font-weight="bold">7</tspan></text><rect x="1150.8" y="1203.3" width="75.7" height="5.8" fill="#f5d6c1"/><text x="1147.8" y="1208.0" font-size="5.0" fill="#1a1a1a" text-anchor="end" ><tspan font-weight="bold">UI/UX Designer</tspan></text><text x="1223.5" y="1208.2" font-size="5.6" fill="#222" text-anchor="end" ><tspan font-weight="bold">3</tspan></text></g><line x1="44" y1="535.5" x2="453" y2="535.5" stroke="#000" stroke-width="3"/><path d="M452,530.5 L461,535.5 L452,540.5 Z" fill="#000" stroke="#000" stroke-width="1.2" stroke-linejoin="round"/><line x1="44" y1="1186" x2="763.5" y2="1186" stroke="#000" stroke-width="3"/><path d="M762.5,1181 L771.5,1186 L762.5,1191 Z" fill="#000" stroke="#000" stroke-width="1.2" stroke-linejoin="round"/><line x1="1754.6" y1="440.3" x2="1393" y2="440.3" stroke="#000" stroke-width="3"/><path d="M1394,435.3 L1385,440.3 L1394,445.3 Z" fill="#000" stroke="#000" stroke-width="1.2" stroke-linejoin="round"/></svg>
<div class="badge"></div>
<svg class="abs" style="left:0;top:0" width="1800" height="1384" viewBox="0 0 1800 1384"><rect x="1308.4" y="1117.6" width="86" height="59.5" rx="6" fill="none" stroke="#0d2b3b" stroke-width="3.2" stroke-linecap="round" stroke-linejoin="round"/><rect x="1366.6" y="1085" width="42.4" height="43" rx="4.5" fill="#f6f7ef" stroke="#0d2b3b" stroke-width="3.2"/><path d="M1380.2,1094.6 H1393.2 V1105.4 H1402.6 L1386.7,1118.6 L1370.8,1105.4 H1380.2 Z" fill="none" stroke="#0d2b3b" stroke-width="3.2" stroke-linecap="round" stroke-linejoin="round"/><rect x="1323.6" y="1136.7" width="55.4" height="14.3" rx="4.5" fill="none" stroke="#0d2b3b" stroke-width="3.2" stroke-linecap="round" stroke-linejoin="round"/><rect x="1323.6" y="1152" width="55.4" height="14.3" rx="4.5" fill="none" stroke="#0d2b3b" stroke-width="3.2" stroke-linecap="round" stroke-linejoin="round"/><line x1="1332" y1="1143.9" x2="1335.5" y2="1143.9" fill="none" stroke="#0d2b3b" stroke-width="3.2" stroke-linecap="round" stroke-linejoin="round"/><line x1="1349" y1="1143.9" x2="1371" y2="1143.9" fill="none" stroke="#0d2b3b" stroke-width="3.2" stroke-linecap="round" stroke-linejoin="round"/><line x1="1332" y1="1159.2" x2="1335.5" y2="1159.2" fill="none" stroke="#0d2b3b" stroke-width="3.2" stroke-linecap="round" stroke-linejoin="round"/><line x1="1349" y1="1159.2" x2="1371" y2="1159.2" fill="none" stroke="#0d2b3b" stroke-width="3.2" stroke-linecap="round" stroke-linejoin="round"/><path d="M1304.5,1177.8 H1338.5 L1341.5,1182.2 H1362 L1365,1177.8 H1399 V1179 Q1399,1190.2 1388,1190.2 H1315.5 Q1304.5,1190.2 1304.5,1179 Z" fill="none" stroke="#0d2b3b" stroke-width="3.2" stroke-linecap="round" stroke-linejoin="round"/><circle cx="1343.8" cy="1089.8" r="4.3" fill="none" stroke="#0d2b3b" stroke-width="3.2" stroke-linecap="round" stroke-linejoin="round"/><circle cx="1329.2" cy="1104" r="4.3" fill="none" stroke="#0d2b3b" stroke-width="3.2" stroke-linecap="round" stroke-linejoin="round"/><line x1="1353" y1="1090.6" x2="1360.5" y2="1090.6" fill="none" stroke="#0d2b3b" stroke-width="3.2" stroke-linecap="round" stroke-linejoin="round"/><line x1="1339.5" y1="1104" x2="1360.5" y2="1104" fill="none" stroke="#0d2b3b" stroke-width="3.2" stroke-linecap="round" stroke-linejoin="round"/><text x="1291.8" y="1224.0" font-size="22" fill="#0b2a3a" text-anchor="start" textLength="131.2" lengthAdjust="spacingAndGlyphs" ><tspan font-weight="bold">NO MANUAL</tspan></text><text x="1324.2" y="1244.0" font-size="22" fill="#0b2a3a" text-anchor="start" textLength="66.3" lengthAdjust="spacingAndGlyphs" ><tspan font-weight="bold">INPUT</tspan></text></svg>
<div class="banner"></div>
<svg class="abs" style="left:0;top:0" width="1800" height="1384" viewBox="0 0 1800 1384"><text x="38.0" y="1356.0" font-size="42.2" fill="#fff" text-anchor="start" textLength="1722.0" lengthAdjust="spacingAndGlyphs" ><tspan font-weight="bold">TURN RECRUITMENT DATA INTO CLEAR INSIGHTS FOR SMARTER HIRING STRATEGIES</tspan></text></svg>
</body></html>
